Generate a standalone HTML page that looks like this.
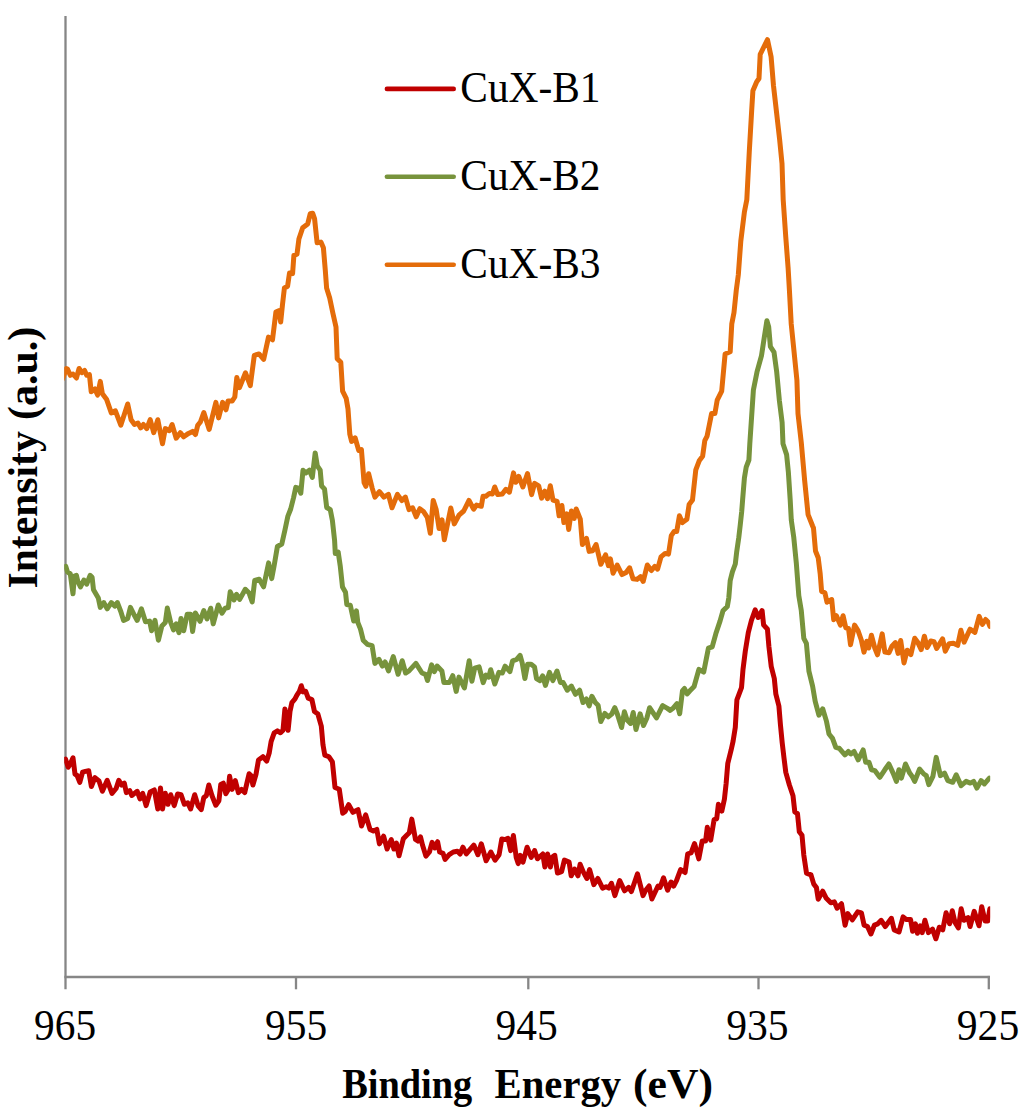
<!DOCTYPE html>
<html><head><meta charset="utf-8"><style>
html,body{margin:0;padding:0;background:#fff;}
body{width:1024px;height:1113px;overflow:hidden;}
svg{display:block;}
text{font-family:"Liberation Serif",serif;}
</style></head><body>
<svg width="1024" height="1113" viewBox="0 0 1024 1113">
<rect width="1024" height="1113" fill="#fff"/>
<g stroke="#868686" stroke-width="2.3" fill="none">
<line x1="65.5" y1="16" x2="65.5" y2="989.3"/>
<line x1="64.4" y1="977" x2="989.9" y2="977"/>
<line x1="296" y1="977" x2="296" y2="989.3"/>
<line x1="528.3" y1="977" x2="528.3" y2="989.3"/>
<line x1="758.5" y1="977" x2="758.5" y2="989.3"/>
<line x1="988.8" y1="975.9" x2="988.8" y2="989.3"/>
</g>
<g font-size="44" fill="#000" text-anchor="middle">
<text x="65.05" y="1039.9" textLength="62" lengthAdjust="spacingAndGlyphs">965</text>
<text x="296.05" y="1039.9" textLength="62.2" lengthAdjust="spacingAndGlyphs">955</text>
<text x="526.65" y="1039.9" textLength="62.2" lengthAdjust="spacingAndGlyphs">945</text>
<text x="757.35" y="1039.9" textLength="62.4" lengthAdjust="spacingAndGlyphs">935</text>
<text x="988" y="1039.9" textLength="62.4" lengthAdjust="spacingAndGlyphs">925</text>
</g>
<g font-size="42.5" font-weight="bold" fill="#000">
<text x="342.2" y="1098.1" textLength="130" lengthAdjust="spacingAndGlyphs">Binding</text>
<text x="494.6" y="1098.1" textLength="126.5" lengthAdjust="spacingAndGlyphs">Energy</text>
<text x="633" y="1098.1" textLength="80" lengthAdjust="spacingAndGlyphs">(eV)</text>
<g transform="translate(37.3,0) rotate(-90)">
<text x="-588.5" y="0" textLength="157.3" lengthAdjust="spacingAndGlyphs">Intensity</text>
<text x="-420" y="0" textLength="93.3" lengthAdjust="spacingAndGlyphs">(a.u.)</text>
</g>
</g>
<g stroke-width="4.6" stroke-linecap="round" fill="none">
<line x1="386.9" y1="88.9" x2="453.7" y2="88.9" stroke="#C00000"/>
<line x1="386.9" y1="176.8" x2="453.7" y2="176.8" stroke="#77933C"/>
<line x1="386.9" y1="264.7" x2="453.7" y2="264.7" stroke="#E46C0A"/>
</g>
<g font-size="43.5" fill="#000">
<text x="460.3" y="101.9" textLength="140.2" lengthAdjust="spacingAndGlyphs">CuX-B1</text>
<text x="460.3" y="190.4" textLength="140.2" lengthAdjust="spacingAndGlyphs">CuX-B2</text>
<text x="460.3" y="278.3" textLength="140.2" lengthAdjust="spacingAndGlyphs">CuX-B3</text>
</g>
<defs><clipPath id="pc"><rect x="64.2" y="0" width="926" height="1000"/></clipPath></defs>
<g clip-path="url(#pc)" stroke-width="5" stroke-linejoin="round" stroke-linecap="round" fill="none">
<polyline stroke="#E46C0A" points="62.5,379.0 66.3,368.6 67.5,369.1 70.3,375.3 73.0,374.0 76.4,378.0 79.1,368.5 81.9,372.6 84.6,370.5 86.7,375.3 89.4,374.6 91.2,391.7 94.9,389.0 97.6,395.1 100.3,381.4 102.4,393.8 106.5,399.2 111.3,412.9 115.4,410.8 120.8,425.2 127.7,404.0 131.1,419.7 134.5,424.5 137.9,423.1 140.7,427.9 143.4,424.5 146.8,428.6 150.2,419.7 153.7,432.7 157.8,419.7 162.5,443.7 165.3,428.6 169.4,430.7 172.1,424.5 176.2,438.2 180.3,432.7 183.7,436.8 188.5,433.4 192.6,431.4 195.5,434.5 197.7,425.3 200.4,422.0 203.8,412.5 209.2,429.4 215.9,402.4 218.6,417.9 222.6,402.4 226.0,409.8 228.0,401.1 232.1,401.1 234.8,397.0 236.8,377.5 239.5,387.6 245.5,372.8 250.3,385.6 254.3,355.3 259.0,353.9 263.7,359.3 268.5,337.1 272.5,339.8 275.9,312.1 278.8,310.7 280.7,322.0 282.5,304.4 284.4,288.0 287.6,286.2 289.5,273.0 292.6,273.6 293.9,255.3 297.0,254.1 298.9,239.0 302.7,227.7 307.7,223.9 310.2,213.8 312.7,213.2 314.6,218.9 317.1,242.8 320.9,242.1 323.4,247.8 325.3,270.4 326.6,288.0 329.7,298.1 332.9,313.2 336.0,327.0 337.2,358.7 340.8,362.3 342.6,391.1 346.2,398.3 348.0,409.0 349.8,434.2 351.6,441.4 355.1,437.8 358.7,450.4 361.4,449.5 364.1,482.7 365.9,486.3 368.6,473.7 372.2,488.1 374.9,497.1 379.4,491.7 383.9,497.1 388.4,494.4 392.0,507.8 397.4,494.4 401.9,500.6 405.4,497.1 409.0,509.6 412.6,507.8 416.2,516.8 419.8,508.7 423.4,511.4 427.3,517.4 430.3,533.2 433.2,500.4 436.1,509.2 439.1,528.6 442.0,519.8 444.3,539.7 450.8,508.0 454.3,523.9 459.0,515.1 463.7,511.0 469.0,500.4 473.6,509.2 476.6,505.1 481.3,506.3 483.0,496.3 485.9,496.3 489.5,493.4 492.4,494.0 494.7,487.0 497.7,494.6 502.3,494.0 505.9,489.3 509.4,492.2 513.5,472.9 515.8,482.3 518.8,476.4 522.9,487.0 527.5,473.5 531.6,494.6 534.6,483.4 538.7,485.8 541.6,498.1 544.8,491.2 547.5,498.7 550.3,485.7 553.0,500.1 557.1,501.4 559.1,515.8 561.9,505.5 563.9,522.6 566.7,513.8 568.7,529.5 571.4,511.0 574.2,518.5 576.2,509.0 580.3,519.2 582.4,544.5 586.5,538.4 589.2,551.4 592.6,550.7 596.1,544.5 600.8,564.3 605.6,554.8 608.4,565.7 610.4,558.9 613.1,573.2 617.2,565.0 622.0,574.6 626.1,572.5 629.6,567.8 633.0,578.7 637.1,579.4 640.5,576.6 643.2,581.4 647.3,565.0 651.4,570.5 654.8,566.4 657.6,569.1 661.0,556.8 665.1,553.4 668.5,554.1 671.3,535.6 674.0,531.5 676.7,531.6 679.4,515.8 682.4,522.6 686.9,519.2 689.1,504.6 692.5,500.1 695.8,469.8 699.2,460.8 702.6,456.3 704.8,440.6 707.1,436.1 711.6,413.6 714.9,413.6 717.2,400.1 721.7,391.1 725.1,354.0 730.2,351.8 731.8,323.7 734.0,312.5 736.3,290.0 738.3,275.0 740.8,241.1 744.4,212.0 746.8,199.8 749.3,151.3 751.7,110.1 752.9,90.7 756.5,82.2 759.0,78.5 760.2,54.3 763.8,47.0 767.5,39.7 771.1,56.7 773.5,85.8 776.0,107.6 779.6,139.2 782.0,163.4 783.2,199.8 785.7,236.2 788.1,267.7 789.4,290.0 791.2,323.7 793.5,346.2 796.9,379.9 798.0,413.6 801.3,442.8 804.7,481.0 808.1,514.7 812.6,526.0 813.5,528.1 815.5,551.0 818.2,557.7 820.2,573.9 821.6,591.4 824.9,592.8 827.0,602.2 831.7,599.5 833.7,619.7 836.4,615.7 840.4,625.1 843.1,615.7 845.8,627.8 848.5,628.5 850.5,644.7 854.6,625.1 858.0,630.5 861.3,640.0 864.0,652.1 866.7,641.3 868.7,648.0 871.4,635.2 874.8,648.0 877.5,654.8 882.2,633.9 884.9,652.1 889.0,652.7 892.1,645.9 895.4,642.6 898.1,653.4 900.7,640.5 904.0,663.0 907.2,650.2 910.9,654.5 914.7,638.3 917.9,642.6 921.2,649.6 924.4,636.2 927.1,647.5 930.8,641.0 934.0,641.6 936.7,648.5 942.6,638.9 945.3,651.2 949.1,643.7 953.4,643.2 957.7,645.3 960.9,630.3 964.1,642.1 970.0,629.2 974.9,632.4 979.2,616.3 982.4,624.4 985.6,619.5 988.3,622.2 989.9,626.5"/>
<polyline stroke="#77933C" points="65.8,566.4 67.5,571.9 70.3,573.9 73.0,593.8 74.4,576.0 76.4,575.3 77.8,581.4 80.5,586.9 83.9,580.1 86.7,584.2 90.1,575.3 92.1,577.3 93.5,589.7 98.3,597.9 100.3,607.4 103.8,602.6 107.2,608.8 111.3,602.6 114.7,606.1 117.4,602.6 120.8,611.5 123.6,620.4 127.7,618.4 130.4,607.4 134.5,615.6 137.2,620.4 141.4,608.8 145.5,621.8 149.6,621.1 151.6,630.7 155.0,620.4 158.4,640.2 161.9,625.9 165.3,622.5 167.3,608.1 170.7,622.5 173.5,630.0 176.2,623.8 179.0,632.7 181.0,618.4 183.7,630.7 187.2,614.3 190.6,614.3 192.6,631.4 195.4,612.9 200.0,621.4 203.8,610.7 207.0,618.9 210.7,608.2 213.2,623.9 218.3,605.0 222.0,613.2 225.2,608.2 228.3,607.5 230.2,591.8 234.0,600.0 236.5,594.3 239.7,599.4 245.3,589.3 249.1,593.1 252.2,601.9 254.7,580.5 259.2,579.2 263.6,586.8 268.6,562.9 271.7,578.6 274.2,565.4 277.4,546.5 281.8,544.0 284.9,530.2 287.9,516.1 290.7,509.0 293.6,497.5 295.8,487.4 298.6,488.1 300.8,493.2 303.0,470.2 305.8,473.0 309.4,470.2 312.3,477.4 315.2,452.9 317.3,465.9 320.2,470.2 321.6,486.0 324.5,488.9 326.7,507.5 330.3,509.7 332.4,520.5 334.6,540.6 335.3,553.5 338.2,552.1 340.3,566.4 342.5,587.0 345.5,592.3 346.8,604.6 350.3,605.3 353.7,621.0 356.4,610.8 357.8,622.4 360.5,629.2 363.2,640.2 367.3,644.3 372.1,645.6 374.9,663.4 379.0,659.3 382.4,666.1 385.1,662.0 388.5,670.9 393.3,656.6 398.1,674.3 402.2,660.7 405.6,673.0 409.0,670.9 415.9,663.4 422.0,673.0 425.5,674.3 427.5,680.5 431.6,664.8 434.3,671.6 437.1,666.1 441.9,670.9 443.9,682.5 449.4,682.5 452.8,675.7 456.2,691.4 459.0,677.1 464.4,688.0 469.2,660.7 471.9,681.2 474.7,668.2 479.1,666.9 483.2,682.6 485.9,675.1 488.7,677.2 490.7,669.7 494.8,684.0 498.9,672.4 502.3,673.1 505.1,666.2 509.9,671.7 512.6,660.8 516.7,659.4 520.1,655.3 522.2,662.8 524.9,678.5 527.6,664.2 531.1,664.2 534.5,666.9 536.5,678.5 539.9,680.6 542.7,675.8 545.4,685.4 549.5,672.4 552.9,680.6 557.0,671.0 560.5,682.6 563.2,682.6 567.3,690.2 571.4,686.1 575.5,694.3 579.6,690.2 583.0,702.5 586.4,699.0 589.2,705.9 591.9,696.3 595.3,702.5 598.1,705.2 600.8,721.6 604.9,713.4 608.3,716.8 611.7,714.1 614.8,707.7 617.5,714.5 621.6,727.5 624.4,711.8 627.1,720.0 630.5,723.4 633.2,712.5 636.0,729.6 640.1,713.8 643.5,725.5 646.9,717.9 649.6,707.7 656.5,717.9 662.6,705.6 667.4,708.4 670.2,710.4 673.6,707.7 677.0,703.6 679.7,713.8 682.5,690.6 684.5,688.5 687.2,694.0 690.7,689.9 694.1,686.5 698.9,669.4 703.7,672.1 708.4,648.2 712.2,646.8 715.8,633.8 720.1,620.9 723.0,610.8 727.3,606.5 728.8,597.8 730.2,580.6 732.4,571.9 735.3,564.0 736.7,551.8 738.8,537.4 740.3,524.5 741.7,511.5 742.6,500.0 744.4,478.0 746.2,467.2 748.9,460.0 749.8,443.8 751.6,416.9 753.4,389.9 757.0,371.9 761.5,355.7 764.2,337.8 766.9,320.7 768.7,327.0 770.4,346.7 774.0,352.1 776.7,371.9 779.4,400.7 782.1,422.2 783.0,443.8 786.6,454.6 788.4,472.6 790.2,500.0 791.3,520.1 793.8,537.7 796.3,562.9 798.8,595.6 801.3,610.7 803.8,638.4 806.4,643.4 808.9,671.1 812.6,686.2 815.2,701.3 818.9,715.1 822.7,708.8 826.5,721.4 829.0,734.0 832.5,738.3 835.8,747.4 839.1,748.2 844.9,754.9 848.3,751.5 850.8,754.0 854.1,751.5 858.2,759.8 863.2,749.9 865.7,762.3 869.0,762.3 871.5,769.8 874.8,770.6 879.8,777.3 884.8,769.8 888.9,764.0 893.1,773.1 896.4,781.4 898.9,769.8 901.4,778.1 905.5,764.0 909.7,773.1 912.2,776.4 914.7,781.4 919.6,769.0 923.8,774.0 926.3,775.6 928.8,784.7 932.9,776.4 936.2,757.4 940.4,775.6 944.5,773.1 947.9,780.6 952.8,782.3 956.2,774.8 961.1,785.6 966.1,781.4 970.3,783.1 973.6,781.4 976.9,788.1 981.1,780.6 984.4,783.9 989.4,778.1"/>
<polyline stroke="#C00000" points="65.5,759.1 68.2,767.3 70.3,763.9 73.0,757.8 75.0,774.2 77.1,775.5 79.8,782.4 82.6,772.1 85.3,771.4 88.7,770.8 91.4,786.5 94.9,777.6 99.0,781.0 102.4,791.3 107.2,780.3 112.0,793.3 116.1,788.5 118.8,780.3 121.5,785.1 124.3,783.1 126.3,792.6 129.7,790.6 131.8,795.4 137.2,791.3 140.0,798.8 142.7,793.3 146.1,805.6 150.2,792.0 154.3,789.9 157.8,809.0 160.5,787.9 162.5,809.0 165.3,793.3 168.0,804.3 170.7,794.7 174.2,805.6 177.6,794.0 181.0,794.7 184.4,804.3 187.8,802.9 190.6,809.0 194.7,794.7 198.1,805.8 201.3,809.6 203.8,797.6 206.3,795.7 208.8,785.0 212.0,795.7 215.8,805.2 218.9,800.8 220.8,784.4 223.3,783.1 225.8,793.8 228.3,789.4 229.6,776.2 232.1,789.4 235.3,780.6 238.4,792.6 241.5,789.4 244.7,792.6 247.2,781.9 249.1,773.7 251.0,775.6 252.9,785.0 256.0,774.3 258.5,759.9 262.9,756.7 266.7,761.1 269.2,753.0 271.1,741.6 274.2,732.8 277.4,730.9 280.5,732.8 283.0,730.3 284.9,708.9 286.8,725.3 288.1,730.3 290.0,711.4 291.9,702.6 295.0,698.9 296.9,695.1 299.4,691.3 301.3,685.7 303.2,691.9 305.7,691.3 308.2,698.2 311.9,699.6 314.5,711.6 317.9,714.1 321.3,726.1 323.0,744.9 324.8,755.1 329.0,756.8 332.4,761.9 335.0,787.5 339.3,789.3 342.7,813.2 345.2,811.4 348.7,804.6 352.9,812.3 358.0,809.7 361.5,826.0 365.7,814.9 370.0,829.4 373.4,831.1 376.8,829.4 379.4,843.9 383.6,836.2 387.1,849.0 391.3,839.6 393.9,849.0 396.4,843.0 399.0,855.8 403.3,838.8 406.7,835.3 409.3,832.8 411.8,819.1 415.5,839.5 417.8,841.0 420.5,836.9 422.5,845.1 425.9,856.1 429.4,852.0 432.1,842.4 434.8,847.9 437.6,841.7 439.6,852.0 443.0,853.3 445.1,859.5 449.2,854.7 453.3,852.0 457.4,851.3 460.1,854.0 462.9,847.2 466.3,854.0 469.7,849.9 473.8,845.1 477.9,854.7 481.3,843.8 486.1,860.8 490.9,852.0 495.0,860.2 499.1,854.7 501.8,839.0 505.2,839.6 508.0,838.3 510.7,850.6 513.4,835.5 516.2,857.4 518.2,863.6 520.3,855.4 523.0,862.2 527.1,847.2 531.2,857.4 534.6,850.6 537.4,858.8 542.8,854.0 544.9,867.0 547.6,854.0 550.4,867.0 552.1,857.3 554.8,855.3 557.5,873.1 561.6,871.7 564.4,860.1 569.1,862.1 571.2,875.8 574.6,869.0 578.0,875.8 580.1,864.2 583.5,872.4 586.9,878.5 589.6,869.6 593.8,884.7 597.9,878.5 602.6,888.1 606.1,886.7 608.8,888.1 611.5,883.3 614.9,895.6 619.7,880.6 624.5,890.8 628.6,887.4 631.4,891.5 637.5,873.8 643.0,895.6 645.7,890.2 649.1,886.0 651.9,899.0 658.0,886.0 660.1,887.4 663.5,877.9 667.6,890.2 671.0,882.0 673.7,886.0 676.5,880.6 680.6,869.6 685.1,872.5 687.7,853.8 691.1,852.9 694.5,843.5 698.8,858.9 702.2,841.0 705.6,841.0 707.3,827.3 710.7,840.1 714.1,819.6 716.7,818.8 718.4,804.3 721.8,811.1 724.4,799.2 726.1,783.8 727.8,763.3 731.2,749.7 733.1,741.1 735.3,727.4 736.9,699.9 741.5,687.7 743.0,669.4 745.3,651.1 748.3,632.7 751.4,620.5 755.2,609.8 758.2,617.5 762.1,610.6 763.6,625.1 767.4,628.9 768.9,646.5 771.2,666.3 774.3,678.5 775.8,693.8 778.9,706.0 780.4,724.4 782.2,742.7 784.0,758.0 785.8,772.4 789.4,785.0 793.0,795.8 794.8,811.9 797.5,813.7 799.3,831.7 802.0,835.3 803.8,855.1 806.5,873.1 811.0,874.9 813.7,883.9 816.4,887.5 818.2,899.2 822.7,891.1 826.3,898.3 830.8,902.8 834.4,901.9 837.1,908.2 841.5,903.7 845.1,925.3 847.8,913.6 852.3,919.9 857.7,911.8 861.4,912.8 864.1,925.1 867.5,926.5 870.9,934.0 874.4,925.1 877.8,923.8 881.2,920.3 885.3,926.5 891.4,918.3 894.2,929.9 899.0,932.0 903.1,916.9 906.5,919.6 910.6,919.6 912.6,931.3 915.4,923.8 917.4,933.3 920.2,925.8 922.2,932.6 924.9,920.3 928.4,932.6 932.5,929.2 935.9,938.8 939.3,927.2 942.7,929.9 946.1,912.8 949.6,923.8 952.3,910.8 955.0,922.4 958.4,927.9 961.2,908.7 963.9,920.3 968.0,917.6 970.1,926.5 974.2,911.4 979.0,925.8 981.7,906.7 985.1,921.0 987.8,921.0 989.9,908.7"/>
</g>
</svg>
</body></html>
